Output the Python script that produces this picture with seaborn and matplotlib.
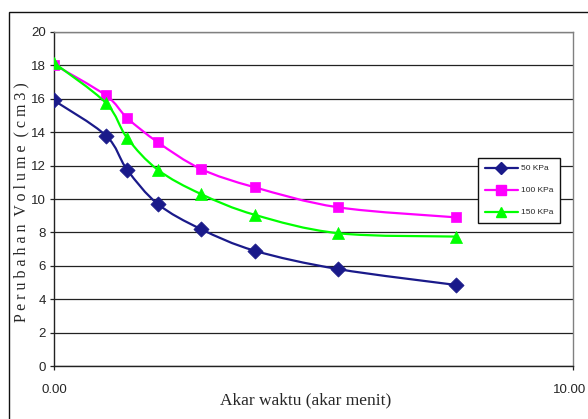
import numpy as np
import pandas as pd
import matplotlib
matplotlib.use("Agg")
import matplotlib.pyplot as plt
from matplotlib import font_manager
from matplotlib.path import Path
from matplotlib.patches import PathPatch, Rectangle
from matplotlib.lines import Line2D
from matplotlib.transforms import ScaledTranslation
import seaborn as sns

# Square root of elapsed time (sqrt of minutes)
akar_waktu = [0.00, 1.00, 1.41, 2.00, 2.83, 3.87, 5.48, 7.75]

# Volume change (cm3) for each confining pressure
vol_50 = [15.9, 13.8, 11.75, 9.7, 8.2, 6.9, 5.8, 4.85]
vol_100 = [18.05, 16.2, 14.85, 13.4, 11.8, 10.7, 9.5, 8.9]
vol_150 = [18.15, 15.75, 13.65, 11.75, 10.3, 9.05, 7.95, 7.75]

series_names = ["50 KPa", "100 KPa", "150 KPa"]
series_values = [vol_50, vol_100, vol_150]
series_colors = ["#1a1a8a", "#ff00ff", "#00ff00"]
series_markers = ["D", "s", "^"]
marker_sizes = [60, 60, 75]

y_ticks = list(range(0, 21, 2))
x_tick_labels = ["0.00", "10.00"]

sns.set_theme(style="white")

# prefer a narrow sans face for the numbers when it is installed
installed = {f.name for f in font_manager.fontManager.ttflist}
has_narrow = "Liberation Sans Narrow" in installed
plt.rcParams["font.family"] = ["Liberation Sans Narrow", "Liberation Sans", "DejaVu Sans"]
tick_size = 10.5 if has_narrow else 9.5
legend_size = 7.5 if has_narrow else 6.0

W, H = 588, 419
fig = plt.figure(figsize=(W / 100, H / 100), dpi=100)
fig.patch.set_facecolor("white")

# chart-area frame
fig.add_artist(Rectangle((9 / W, -0.1), 1.2, 1 - 12 / H + 0.1, transform=fig.transFigure,
                         fill=False, edgecolor="#111111", linewidth=1.0))

ax = fig.add_axes([54 / W, 1 - 366 / H, (573 - 54) / W, (366 - 32) / H])
ax.set_facecolor("white")

df = pd.DataFrame({
    "akar_waktu": akar_waktu * 3,
    "volume": vol_50 + vol_100 + vol_150,
    "beban": sum([[n] * len(akar_waktu) for n in series_names], []),
})


def smooth_path(xs, ys):
    """Cardinal-spline Bezier path through the points (Excel-style smoothing)."""
    pts = np.column_stack([xs, ys]).astype(float)
    n = len(pts)
    verts = [pts[0]]
    codes = [Path.MOVETO]
    for i in range(n - 1):
        p0 = pts[i - 1] if i > 0 else pts[i]
        p1 = pts[i]
        p2 = pts[i + 1]
        p3 = pts[i + 2] if i + 2 < n else pts[i + 1]
        c1 = p1 + (p2 - p0) / 6.0
        c2 = p2 - (p3 - p1) / 6.0
        verts += [c1, c2, p2]
        codes += [Path.CURVE4] * 3
    return Path(verts, codes)


for k, (name, color, marker, ms) in enumerate(zip(series_names, series_colors, series_markers, marker_sizes)):
    sub = df[df["beban"] == name]
    patch = PathPatch(smooth_path(sub["akar_waktu"].values, sub["volume"].values),
                      facecolor="none", edgecolor=color, linewidth=1.6, zorder=3 + 2 * k)
    ax.add_patch(patch)
    sns.scatterplot(data=sub, x="akar_waktu", y="volume", marker=marker, color=color,
                    s=ms, edgecolor=color, linewidth=0.5, zorder=4 + 2 * k, ax=ax, legend=False)

ax.set_xlim(0, 10)
ax.set_ylim(0, 20)
ax.set_yticks(y_ticks)
ax.set_yticklabels([str(v) for v in y_ticks])
ax.set_xticks([0, 10])
ax.set_xticklabels(x_tick_labels)

ax.yaxis.grid(True, color="#222222", linewidth=0.9)
ax.xaxis.grid(False)
ax.set_axisbelow(True)

for side in ["left", "bottom"]:
    ax.spines[side].set_color("#222222")
    ax.spines[side].set_linewidth(1.0)
for side in ["top", "right"]:
    ax.spines[side].set_color("#808080")
    ax.spines[side].set_linewidth(1.0)

ax.tick_params(axis="y", direction="out", length=3, width=0.9, color="#222222",
               labelsize=tick_size, pad=3, left=True)
ax.tick_params(axis="x", direction="out", length=3, width=0.9, color="#222222",
               labelsize=tick_size, pad=10, bottom=True)

# keep the last x label inside the figure edge
last = ax.get_xticklabels()[-1]
last.set_transform(last.get_transform() + ScaledTranslation(-3 / 100, 0, fig.dpi_scale_trans))

ax.set_xlabel("Akar waktu (akar menit)", family="Liberation Serif", fontsize=12.5)
ax.xaxis.set_label_coords((306 - 54) / 519, (366 - 400) / 334)
ax.xaxis.label.set_verticalalignment("center")

ax.set_ylabel("P e r u b a h a n  V o l u m e  ( c m 3 )", family="Liberation Serif", fontsize=11.5)
ax.yaxis.set_label_coords((21 - 54) / 519, (366 - 202) / 334)
ax.yaxis.label.set_verticalalignment("center")

handles = [Line2D([0], [0], color=c, marker=m, markersize=6.5 if m != "^" else 7,
                  markeredgecolor=c, linewidth=1.6)
           for c, m in zip(series_colors, series_markers)]
leg = ax.legend(handles, series_names, loc="upper left",
                bbox_to_anchor=((478 - 54) / 519, (366 - 158) / 334),
                fontsize=legend_size, handlelength=33 / (legend_size * 100 / 72),
                handletextpad=0.45, labelspacing=1.7,
                borderpad=0.8, borderaxespad=0, fancybox=False, framealpha=1,
                edgecolor="#111111")
leg.get_frame().set_linewidth(1.0)

fig.savefig("out.png", dpi=100)
